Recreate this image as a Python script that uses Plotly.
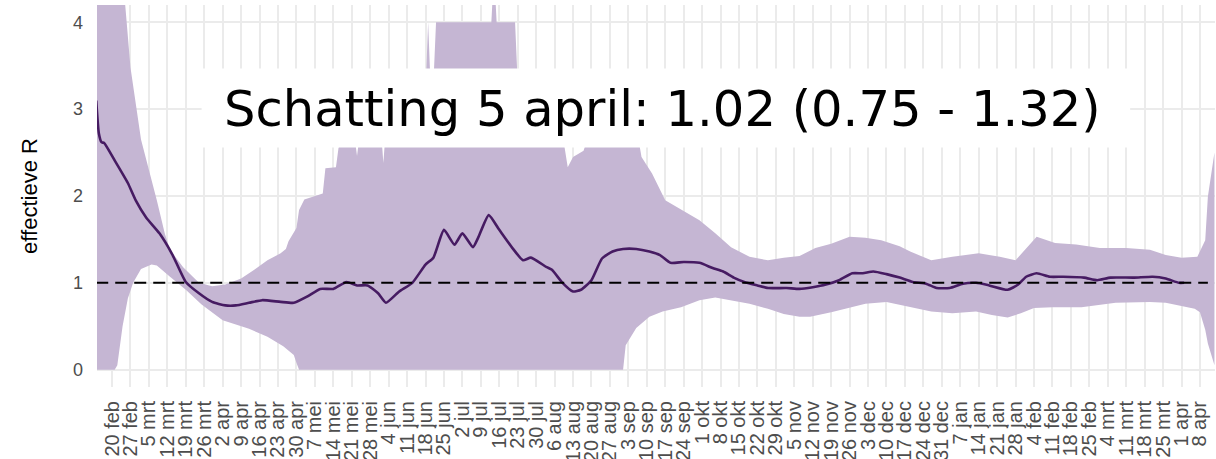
import pandas as pd
import plotly.graph_objects as go

# ---- data ----
r_dates = ["2020-02-14", "2020-02-15", "2020-02-16", "2020-02-17", "2020-02-21", "2020-02-26",
           "2020-02-29", "2020-03-04", "2020-03-09", "2020-03-14", "2020-03-19", "2020-03-24",
           "2020-03-29", "2020-04-03", "2020-04-07", "2020-04-12", "2020-04-17", "2020-04-24",
           "2020-04-29", "2020-05-04", "2020-05-09", "2020-05-14", "2020-05-19", "2020-05-23",
           "2020-05-27", "2020-05-31", "2020-06-03", "2020-06-08", "2020-06-13", "2020-06-18",
           "2020-06-21", "2020-06-25", "2020-06-29", "2020-07-02", "2020-07-06", "2020-07-08",
           "2020-07-12", "2020-07-16", "2020-07-21", "2020-07-25", "2020-07-28", "2020-08-03",
           "2020-08-05", "2020-08-09", "2020-08-13", "2020-08-16", "2020-08-20", "2020-08-24",
           "2020-08-28", "2020-09-01", "2020-09-06", "2020-09-11", "2020-09-15", "2020-09-19",
           "2020-09-24", "2020-09-30", "2020-10-05", "2020-10-09", "2020-10-13", "2020-10-17",
           "2020-10-22", "2020-10-26", "2020-11-02", "2020-11-07", "2020-11-12", "2020-11-17",
           "2020-11-22", "2020-11-27", "2020-12-01", "2020-12-05", "2020-12-10", "2020-12-15",
           "2020-12-20", "2020-12-25", "2020-12-29", "2021-01-03", "2021-01-08", "2021-01-13",
           "2021-01-18", "2021-01-25", "2021-01-29", "2021-02-01", "2021-02-05", "2021-02-10",
           "2021-02-15", "2021-02-23", "2021-02-28", "2021-03-05", "2021-03-14", "2021-03-21",
           "2021-03-26", "2021-03-31", "2021-04-02"]
r_values = [3.10, 2.72, 2.62, 2.61, 2.41, 2.15,
            1.95, 1.75, 1.57, 1.32, 1.01, 0.88,
            0.78, 0.74, 0.74, 0.77, 0.80, 0.78,
            0.77, 0.84, 0.93, 0.93, 1.01, 0.97,
            0.97, 0.88, 0.77, 0.90, 1.00, 1.21,
            1.29, 1.61, 1.44, 1.57, 1.41, 1.52,
            1.78, 1.61, 1.40, 1.26, 1.29, 1.18,
            1.15, 1.00, 0.90, 0.92, 1.03, 1.28,
            1.36, 1.39, 1.39, 1.36, 1.32, 1.23,
            1.24, 1.23, 1.17, 1.13, 1.06, 1.01,
            0.97, 0.94, 0.94, 0.93, 0.95, 0.98,
            1.03, 1.11, 1.11, 1.13, 1.10, 1.06,
            1.01, 0.99, 0.94, 0.94, 0.99, 1.00,
            0.97, 0.92, 0.98, 1.07, 1.11, 1.07,
            1.07, 1.06, 1.03, 1.06, 1.06, 1.07,
            1.05, 1.00, 1.00]

upper_dates = ["2020-02-14", "2020-02-25", "2020-02-27", "2020-03-02", "2020-03-08", "2020-03-11",
               "2020-03-13", "2020-03-18", "2020-03-24", "2020-03-29", "2020-04-03", "2020-04-09",
               "2020-04-14", "2020-04-19", "2020-04-24", "2020-04-26", "2020-04-27", "2020-04-30",
               "2020-05-01", "2020-05-03", "2020-05-10", "2020-05-11", "2020-05-15", "2020-05-16",
               "2020-05-22", "2020-05-23", "2020-05-24", "2020-06-01", "2020-06-02", "2020-06-03",
               "2020-06-18", "2020-06-19", "2020-06-20", "2020-06-21", "2020-06-22", "2020-07-13",
               "2020-07-14", "2020-07-15", "2020-07-22", "2020-07-23", "2020-08-08", "2020-08-11",
               "2020-08-13", "2020-08-17", "2020-08-20", "2020-09-06", "2020-09-08", "2020-09-12",
               "2020-09-17", "2020-09-23", "2020-09-30", "2020-10-06", "2020-10-12", "2020-10-19",
               "2020-10-26", "2020-11-01", "2020-11-07", "2020-11-13", "2020-11-19", "2020-11-26",
               "2020-12-02", "2020-12-08", "2020-12-15", "2020-12-19", "2020-12-27", "2021-01-04",
               "2021-01-14", "2021-01-22", "2021-01-28", "2021-02-05", "2021-02-12", "2021-02-20",
               "2021-03-01", "2021-03-11", "2021-03-20", "2021-03-26", "2021-04-01", "2021-04-07",
               "2021-04-10", "2021-04-11", "2021-04-13 12:00"]
upper_values = [6.5, 4.2, 3.48, 2.65, 1.95, 1.57,
                1.38, 1.18, 1.00, 0.96, 0.98, 1.05,
                1.15, 1.26, 1.34, 1.39, 1.48, 1.63,
                1.84, 1.96, 2.03, 2.32, 2.33, 2.56,
                2.70, 2.46, 2.70, 2.80, 2.38, 2.80,
                3.20, 4.00, 3.20, 3.30, 4.00, 4.00,
                4.60, 4.00, 4.00, 3.30, 2.90, 2.33,
                2.45, 2.52, 2.80, 2.80, 2.45, 2.26,
                1.95, 1.84, 1.72, 1.57, 1.41, 1.30,
                1.26, 1.29, 1.31, 1.40, 1.45, 1.53,
                1.52, 1.49, 1.42, 1.36, 1.26, 1.30,
                1.34, 1.30, 1.26, 1.53, 1.46, 1.44,
                1.40, 1.40, 1.38, 1.32, 1.29, 1.30,
                1.49, 1.99, 2.50]

lower_dates = ["2020-02-14", "2020-02-21", "2020-02-22", "2020-02-24", "2020-02-26", "2020-02-28",
               "2020-03-02", "2020-03-06", "2020-03-08", "2020-03-13", "2020-03-19", "2020-03-25",
               "2020-04-02", "2020-04-12", "2020-04-19", "2020-04-25", "2020-04-29", "2020-04-30",
               "2020-05-01", "2020-09-01", "2020-09-02", "2020-09-06", "2020-09-11", "2020-09-16",
               "2020-09-23", "2020-09-30", "2020-10-06", "2020-10-12", "2020-10-19", "2020-10-26",
               "2020-11-01", "2020-11-07", "2020-11-11", "2020-11-19", "2020-11-26", "2020-12-02",
               "2020-12-10", "2020-12-19", "2020-12-27", "2021-01-04", "2021-01-13", "2021-01-19",
               "2021-01-25", "2021-01-30", "2021-02-04", "2021-02-11", "2021-02-22", "2021-03-07",
               "2021-03-20", "2021-03-26", "2021-04-01", "2021-04-06", "2021-04-08", "2021-04-10",
               "2021-04-11", "2021-04-13 12:00"]
lower_values = [0.0, 0.0, 0.05, 0.50, 0.82, 1.00,
                1.16, 1.21, 1.20, 1.07, 0.92, 0.75,
                0.57, 0.47, 0.38, 0.27, 0.17, 0.08,
                0.0, 0.0, 0.28, 0.48, 0.61, 0.67,
                0.72, 0.80, 0.83, 0.80, 0.76, 0.70,
                0.64, 0.61, 0.61, 0.66, 0.71, 0.76,
                0.78, 0.72, 0.67, 0.65, 0.67, 0.63,
                0.60, 0.65, 0.71, 0.72, 0.72, 0.77,
                0.78, 0.77, 0.73, 0.70, 0.66, 0.46,
                0.30, 0.05]

tick_labels = ["20 feb", "27 feb", "5 mrt", "12 mrt", "19 mrt", "26 mrt", "2 apr", "9 apr",
               "16 apr", "23 apr", "30 apr", "7 mei", "14 mei", "21 mei", "28 mei", "4 jun",
               "11 jun", "18 jun", "25 jun", "2 jul", "9 jul", "16 jul", "23 jul", "30 jul",
               "6 aug", "13 aug", "20 aug", "27 aug", "3 sep", "10 sep", "17 sep", "24 sep",
               "1 okt", "8 okt", "15 okt", "22 okt", "29 okt", "5 nov", "12 nov", "19 nov",
               "26 nov", "3 dec", "10 dec", "17 dec", "24 dec", "31 dec", "7 jan", "14 jan",
               "21 jan", "28 jan", "4 feb", "11 feb", "18 feb", "25 feb", "4 mrt", "11 mrt",
               "18 mrt", "25 mrt", "1 apr", "8 apr"]
tick_dates = list(pd.date_range("2020-02-20", periods=len(tick_labels), freq="7D"))

reference_R = 1.0
label_text = "Schatting 5 april: 1.02 (0.75 - 1.32)"

# ---- figure ----
RIBBON = "#C5B6D3"
LINE = "#461B62"
GRID = "#EBEBEB"

fig = go.Figure()
fig.add_trace(go.Scatter(
    x=upper_dates + lower_dates[::-1],
    y=upper_values + lower_values[::-1],
    fill="toself", fillcolor=RIBBON, mode="lines", line=dict(width=0, color=RIBBON),
    hoverinfo="skip", showlegend=False))
fig.add_trace(go.Scatter(
    x=r_dates, y=r_values, mode="lines",
    line=dict(color=LINE, width=2.6, shape="spline", smoothing=0.5),
    showlegend=False))
fig.add_trace(go.Scatter(
    x=[r_dates[0], "2021-04-11"], y=[reference_R, reference_R], mode="lines",
    line=dict(color="black", width=2, dash="12px,7px"), showlegend=False))

# white label box + text
fig.add_shape(type="rect", xref="x", yref="y",
              x0="2020-03-25", x1="2021-03-12 12:00", y0=2.56, y1=3.47,
              fillcolor="white", line=dict(width=0), layer="above")
fig.add_annotation(x="2020-09-16", y=3.0, xref="x", yref="y", text=label_text,
                   showarrow=False, font=dict(family="DejaVu Sans", size=49.6, color="black"))

fig.update_layout(
    width=1216, height=459,
    margin=dict(l=97, r=1, t=5, b=72),
    paper_bgcolor="white", plot_bgcolor="white",
    font=dict(family="Liberation Sans, Arial, sans-serif"),
    xaxis=dict(
        range=["2020-02-14 07:00", "2021-04-13 17:00"],
        tickmode="array", tickvals=tick_dates, ticktext=tick_labels,
        tickangle=-90, tickfont=dict(size=20, color="#4D4D4D"),
        showgrid=True, gridcolor=GRID, gridwidth=2.4, automargin=False,
        zeroline=False, showline=False, ticks="", ticklabelstandoff=9),
    yaxis=dict(
        range=[-0.2, 4.2], tickvals=[0, 1, 2, 3, 4],
        tickfont=dict(size=18, color="#4D4D4D"),
        showgrid=True, gridcolor=GRID, gridwidth=2.2, automargin=False,
        zeroline=False, showline=False, ticks="", ticklabelstandoff=13,
        title=dict(text="effectieve R", font=dict(size=22, color="black"), standoff=29)),
)

fig.write_html("out.html", config={"displayModeBar": False},
               post_script="document.body.style.margin='0';document.body.style.padding='0';")
